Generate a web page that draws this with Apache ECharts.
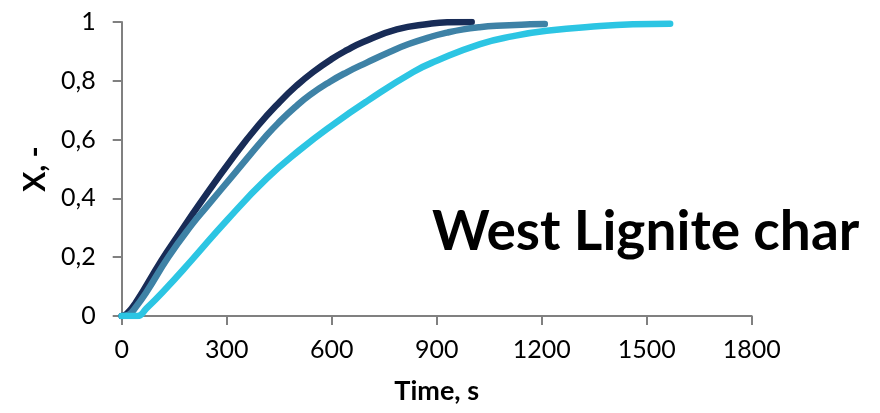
<!DOCTYPE html>
<html>
<head>
<meta charset="utf-8">
<script src="https://cdn.jsdelivr.net/npm/echarts@6/dist/echarts.min.js"></script>
<style>html,body{margin:0;padding:0;background:#fff}#c{width:880px;height:413px}</style>
</head>
<body>
<div id="c"></div>
<script>
// Data
var navyT = [0, 15, 40, 114, 160, 224, 319, 390, 452, 500, 547, 600, 643, 690, 786, 881, 930, 1000];
var navyX = [0, 0.008, 0.045, 0.19, 0.272, 0.384, 0.541, 0.648, 0.729, 0.784, 0.830, 0.874, 0.904, 0.932, 0.975, 0.994, 0.999, 1.0];

var steelT = [0, 20, 40, 70, 133, 200, 243, 319, 414, 452, 495, 538, 595, 643, 700, 767, 820, 881, 930, 976, 1020, 1071, 1167, 1209];
var steelX = [0, 0.005, 0.03, 0.08, 0.20, 0.31, 0.372, 0.48, 0.614, 0.662, 0.71, 0.752, 0.797, 0.829, 0.862, 0.899, 0.925, 0.949, 0.964, 0.975, 0.982, 0.987, 0.992, 0.993];

var cyanT = [0, 45, 70, 120, 200, 300, 414, 509, 605, 700, 833, 900, 1024, 1119, 1214, 1367, 1462, 1567];
var cyanX = [0, 0, 0.025, 0.085, 0.19, 0.325, 0.467, 0.565, 0.652, 0.73, 0.83, 0.868, 0.925, 0.952, 0.970, 0.986, 0.992, 0.994];

var xTicks = [0, 300, 600, 900, 1200, 1500, 1800];
var yTicks = [0, 0.2, 0.4, 0.6, 0.8, 1];

var titleText = 'West Lignite char';
var xName = 'Time, s';
var yName = 'X, -';

function pairs(t, v) { return t.map(function (x, i) { return [x, v[i]]; }); }

var chart = echarts.init(document.getElementById('c'), null, { renderer: 'canvas' });
var axisColor = '#808080';
var font = 'Lato, "DejaVu Sans", sans-serif';

chart.setOption({
  animation: false,
  backgroundColor: '#fff',
  title: {
    text: titleText,
    left: 427,
    top: 200,
    textStyle: { fontFamily: font, fontSize: 55, fontWeight: 'bold', color: '#000' }
  },
  grid: { left: 121.7, right: 128.3, top: 22, bottom: 97, containLabel: false },
  xAxis: {
    type: 'value',
    min: xTicks[0],
    max: xTicks[xTicks.length - 1],
    interval: xTicks[1] - xTicks[0],
    name: xName,
    nameLocation: 'middle',
    nameGap: 62,
    nameTextStyle: { fontFamily: font, fontSize: 27, fontWeight: 'bold', color: '#000' },
    axisLine: { show: true, lineStyle: { color: axisColor, width: 2 } },
    axisTick: { show: true, length: 9, lineStyle: { color: axisColor, width: 2 } },
    axisLabel: { fontFamily: font, fontSize: 25, color: '#000', margin: 21,
      formatter: function (v) { return String(v); } },
    splitLine: { show: false }
  },
  yAxis: {
    type: 'value',
    min: yTicks[0],
    max: yTicks[yTicks.length - 1],
    interval: 0.2,
    name: yName,
    nameLocation: 'middle',
    nameGap: 70,
    nameTextStyle: { fontFamily: font, fontSize: 30, fontWeight: 'bold', color: '#000' },
    axisLine: { show: true, lineStyle: { color: axisColor, width: 2 } },
    axisTick: { show: true, length: 9, lineStyle: { color: axisColor, width: 2 } },
    axisLabel: {
      fontFamily: font, fontSize: 25, color: '#000', margin: 26,
      formatter: function (v) { return String(Math.round(v * 10) / 10).replace('.', ','); }
    },
    splitLine: { show: false }
  },
  series: [
    { type: 'line', data: pairs(navyT, navyX), smooth: 0.5, showSymbol: false, z: 2,
      lineStyle: { color: '#182C57', width: 6.5, cap: 'round' } },
    { type: 'line', data: pairs(steelT, steelX), smooth: 0.5, showSymbol: false, z: 3,
      lineStyle: { color: '#3E82A6', width: 6.5, cap: 'round' } },
    { type: 'line', data: pairs(cyanT, cyanX), smooth: 0.5, showSymbol: false, z: 4,
      lineStyle: { color: '#2CC5E3', width: 6.5, cap: 'round' } }
  ]
});
</script>
</body>
</html>
